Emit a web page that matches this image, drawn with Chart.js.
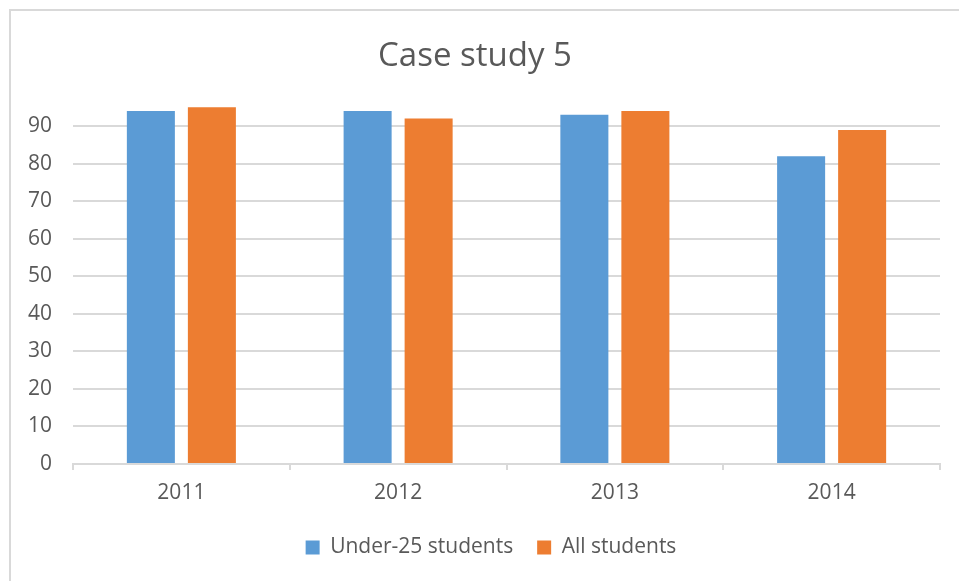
<!DOCTYPE html>
<html>
<head>
<meta charset="utf-8">
<script src="https://cdn.jsdelivr.net/npm/chart.js@4/dist/chart.umd.min.js"></script>
<style>
  html, body { margin: 0; padding: 0; background: #fff; }
  #wrap { position: relative; width: 959px; height: 581px; overflow: hidden; }
  #frame { position: absolute; left: 9px; top: 9px; width: 1000px; height: 700px;
           border-top: 2px solid #d9d9d9; border-left: 2px solid #d9d9d9; box-sizing: border-box; }
  canvas { position: absolute; left: 0; top: 0; }
</style>
</head>
<body>
<div id="wrap">
  <div id="frame"></div>
  <canvas id="case_study_chart" width="959" height="581"></canvas>
</div>
<script>
var years = ["2011", "2012", "2013", "2014"];
var under25 = [94, 94, 93, 82];
var allStudents = [95, 92, 94, 89];
var seriesNames = ["Under-25 students", "All students"];

var textColor = "#595959";
var gridColor = "#d9d9d9";

// nudge the legend a bit right, like the original layout
var legendShift = {
    id: 'legendShift',
    afterLayout: function (chart) {
        chart.legend.left += 16;
        chart.legend.right += 16;
    }
};

var ctx = document.getElementById("case_study_chart");
var myBarChart = new Chart(ctx, {
    type: 'bar',
    data: {
        labels: years,
        datasets: [{
            label: seriesNames[0],
            data: under25,
            backgroundColor: "#5B9BD5"
        }, {
            label: seriesNames[1],
            data: allStudents,
            backgroundColor: "#ED7D31"
        }]
    },
    plugins: [legendShift],
    options: {
        responsive: false,
        animation: false,
        categoryPercentage: 0.563,
        barPercentage: 0.787,
        layout: {
            padding: { left: 10, right: 19, top: 10, bottom: 13 }
        },
        plugins: {
            title: {
                display: true,
                text: "Case study 5",
                color: textColor,
                font: { family: "'Open Sans'", size: 33, weight: 'normal' },
                padding: { top: 27, bottom: 27 }
            },
            legend: {
                position: 'bottom',
                labels: {
                    color: textColor,
                    font: { family: "'Open Sans'", size: 21 },
                    boxWidth: 14,
                    boxHeight: 14,
                    padding: 24
                }
            },
            tooltip: { enabled: false }
        },
        scales: {
            x: {
                grid: {
                    offset: true,
                    drawOnChartArea: false,
                    tickLength: 6,
                    color: gridColor,
                    lineWidth: 2
                },
                border: { display: true, color: gridColor, width: 2 },
                ticks: {
                    color: textColor,
                    font: { family: "'Open Sans'", size: 21 },
                    padding: 10
                },
                afterFit: function (scale) { scale.height = 49; }
            },
            y: {
                min: 0,
                max: 96,
                border: { display: false },
                grid: { color: gridColor, lineWidth: 2, drawTicks: false },
                ticks: {
                    stepSize: 10,
                    includeBounds: false,
                    color: textColor,
                    font: { family: "'Open Sans'", size: 21 },
                    padding: 21
                },
                afterFit: function (scale) { scale.width = 63; }
            }
        }
    }
});
</script>
</body>
</html>
